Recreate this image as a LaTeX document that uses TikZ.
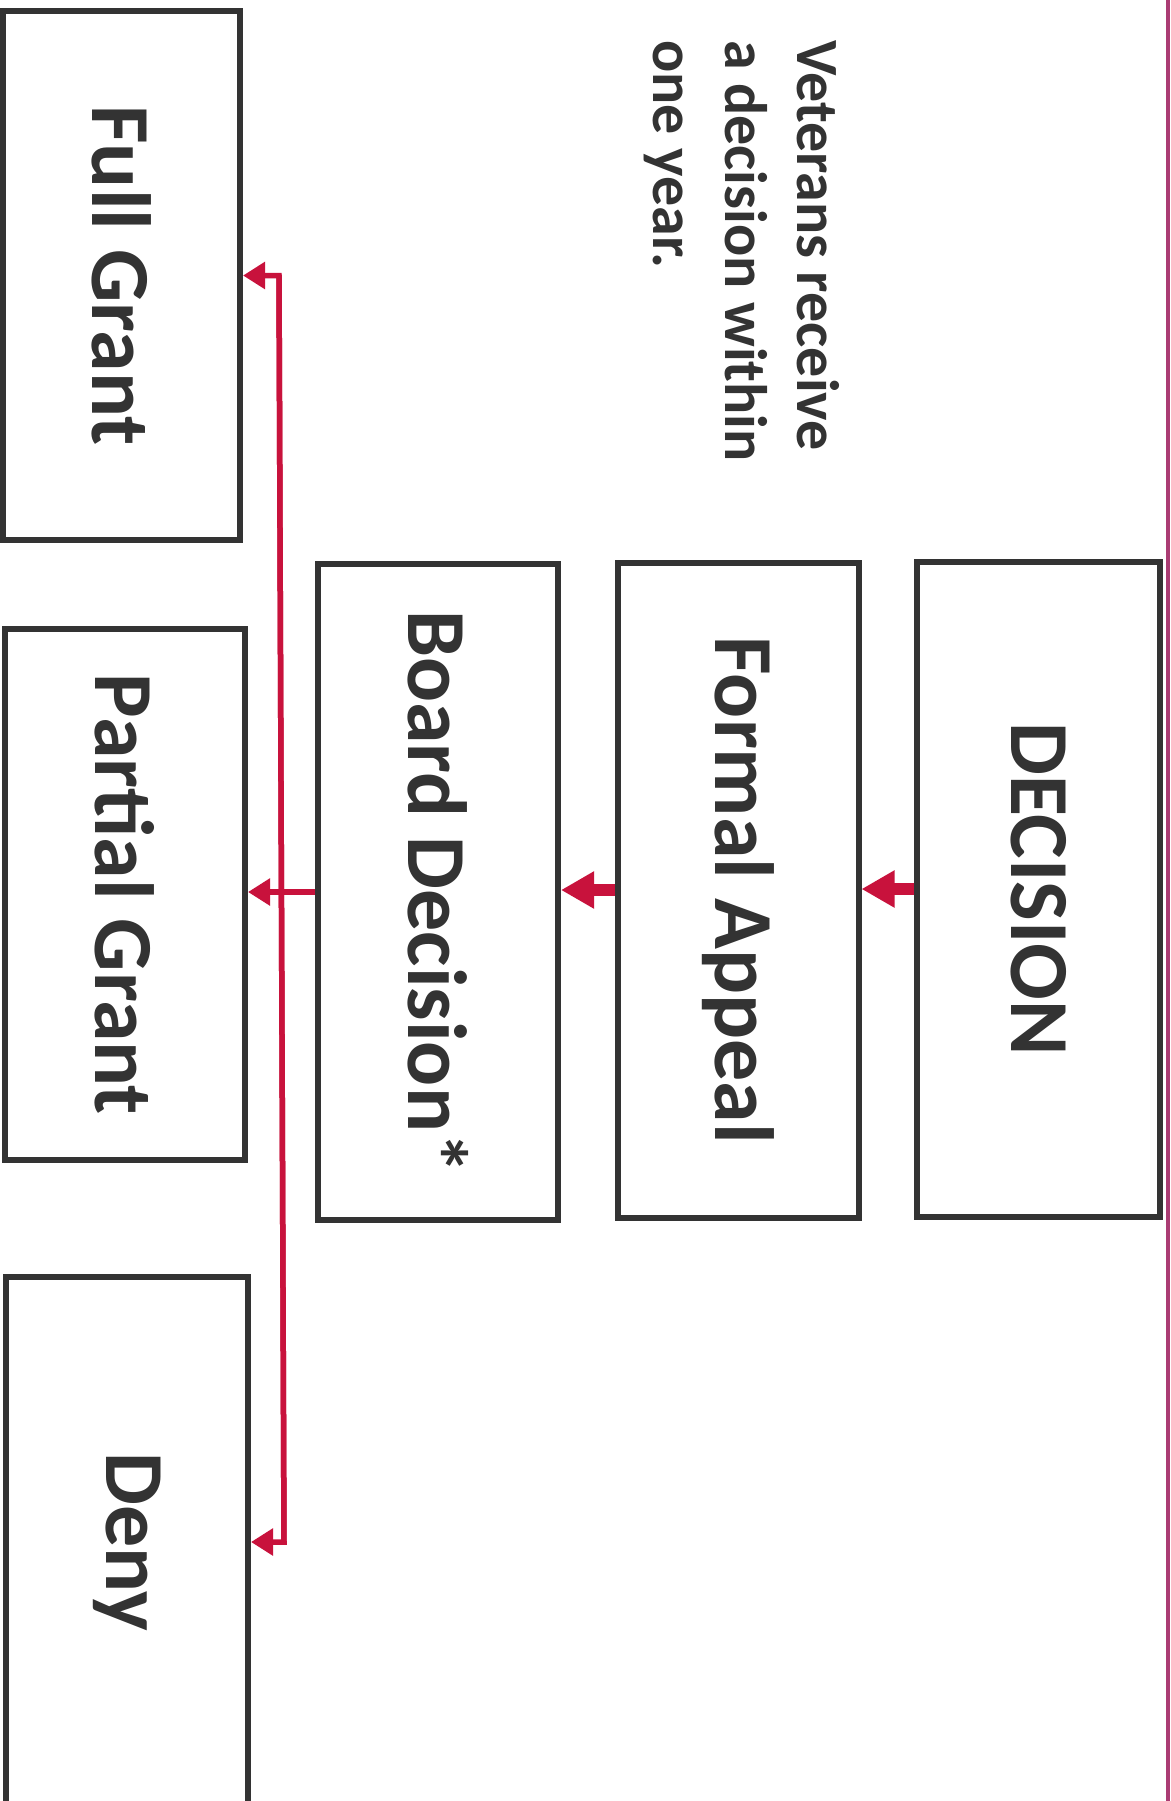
\documentclass[tikz,border=0pt]{standalone}
\usepackage{fontspec}
\setmainfont{Carlito}
\usetikzlibrary{arrows.meta}
\definecolor{boxgray}{HTML}{333333}
\definecolor{vared}{RGB}{200,18,60}
\definecolor{edgemag}{RGB}{170,60,115}
\begin{document}
\begin{tikzpicture}[x=1pt,y=-1pt,
  box/.style={draw=boxgray, line width=6pt, fill=white, inner sep=0pt},
  lbl/.style={rotate=-90, text=boxgray, font=\fontsize{84}{90}\selectfont\bfseries, inner sep=0pt},
  note/.style={rotate=-90, text=boxgray, font=\fontsize{60}{72}\selectfont\bfseries, inner sep=0pt, align=left, anchor=north west},
  bigarrow/.style={draw=vared, line width=12pt, -{Triangle[length=33pt,width=35pt]}},
  thinarrow/.style={draw=vared, line width=5.5pt, -{Triangle[length=22pt,width=26pt]}},
  edge/.style={draw=edgemag, line width=4pt}]
\useasboundingbox (0,0) rectangle (1170,1801);
\fill[white] (0,0) rectangle (1170,1801);
\draw[edge] (1168,0) -- (1168,1801);

% boxes
\node[box, minimum width=243pt, minimum height=655pt] (dec) at (1038.5,889) {};
\node[box, minimum width=241pt, minimum height=655pt] (formal) at (738,890) {};
\node[box, minimum width=240pt, minimum height=656pt] (board) at (438,892) {};
\node[box, minimum width=237pt, minimum height=529pt] (full) at (121.5,275.5) {};
\node[box, minimum width=240pt, minimum height=531pt] (partial) at (125,894.5) {};
\node[box, minimum width=242pt, minimum height=530pt] (deny) at (127,1542) {};

% labels
\node[lbl] (decT) at (dec) {DECISION};
\node[lbl] (formalT) at (formal) {Formal Appeal};
\node[lbl] (boardT) at (board) {Board Decision*};
\node[lbl] (fullT) at (full) {Full Grant};
\node[lbl] (partialT) at (partial) {Partial Grant};
\node[lbl] (denyT) at (deny) {Deny};

\node[note] (noteT) at (840,40) {Veterans receive\\a decision within\\one year.};

% connectors
\draw[bigarrow] (dec.west) -- (dec.west -| formal.east);
\draw[bigarrow] (formal.west) -- (formal.west -| board.east);
\draw[thinarrow] (board.west) -- (board.west -| partial.east);
\coordinate (bt) at (279,275.5);
\coordinate (bb) at (284,1542);
\draw[thinarrow] (bb) -- (bt) -- (full.east);
\draw[thinarrow] (bt) -- (bb) -- (deny.east);
\end{tikzpicture}
\end{document}
